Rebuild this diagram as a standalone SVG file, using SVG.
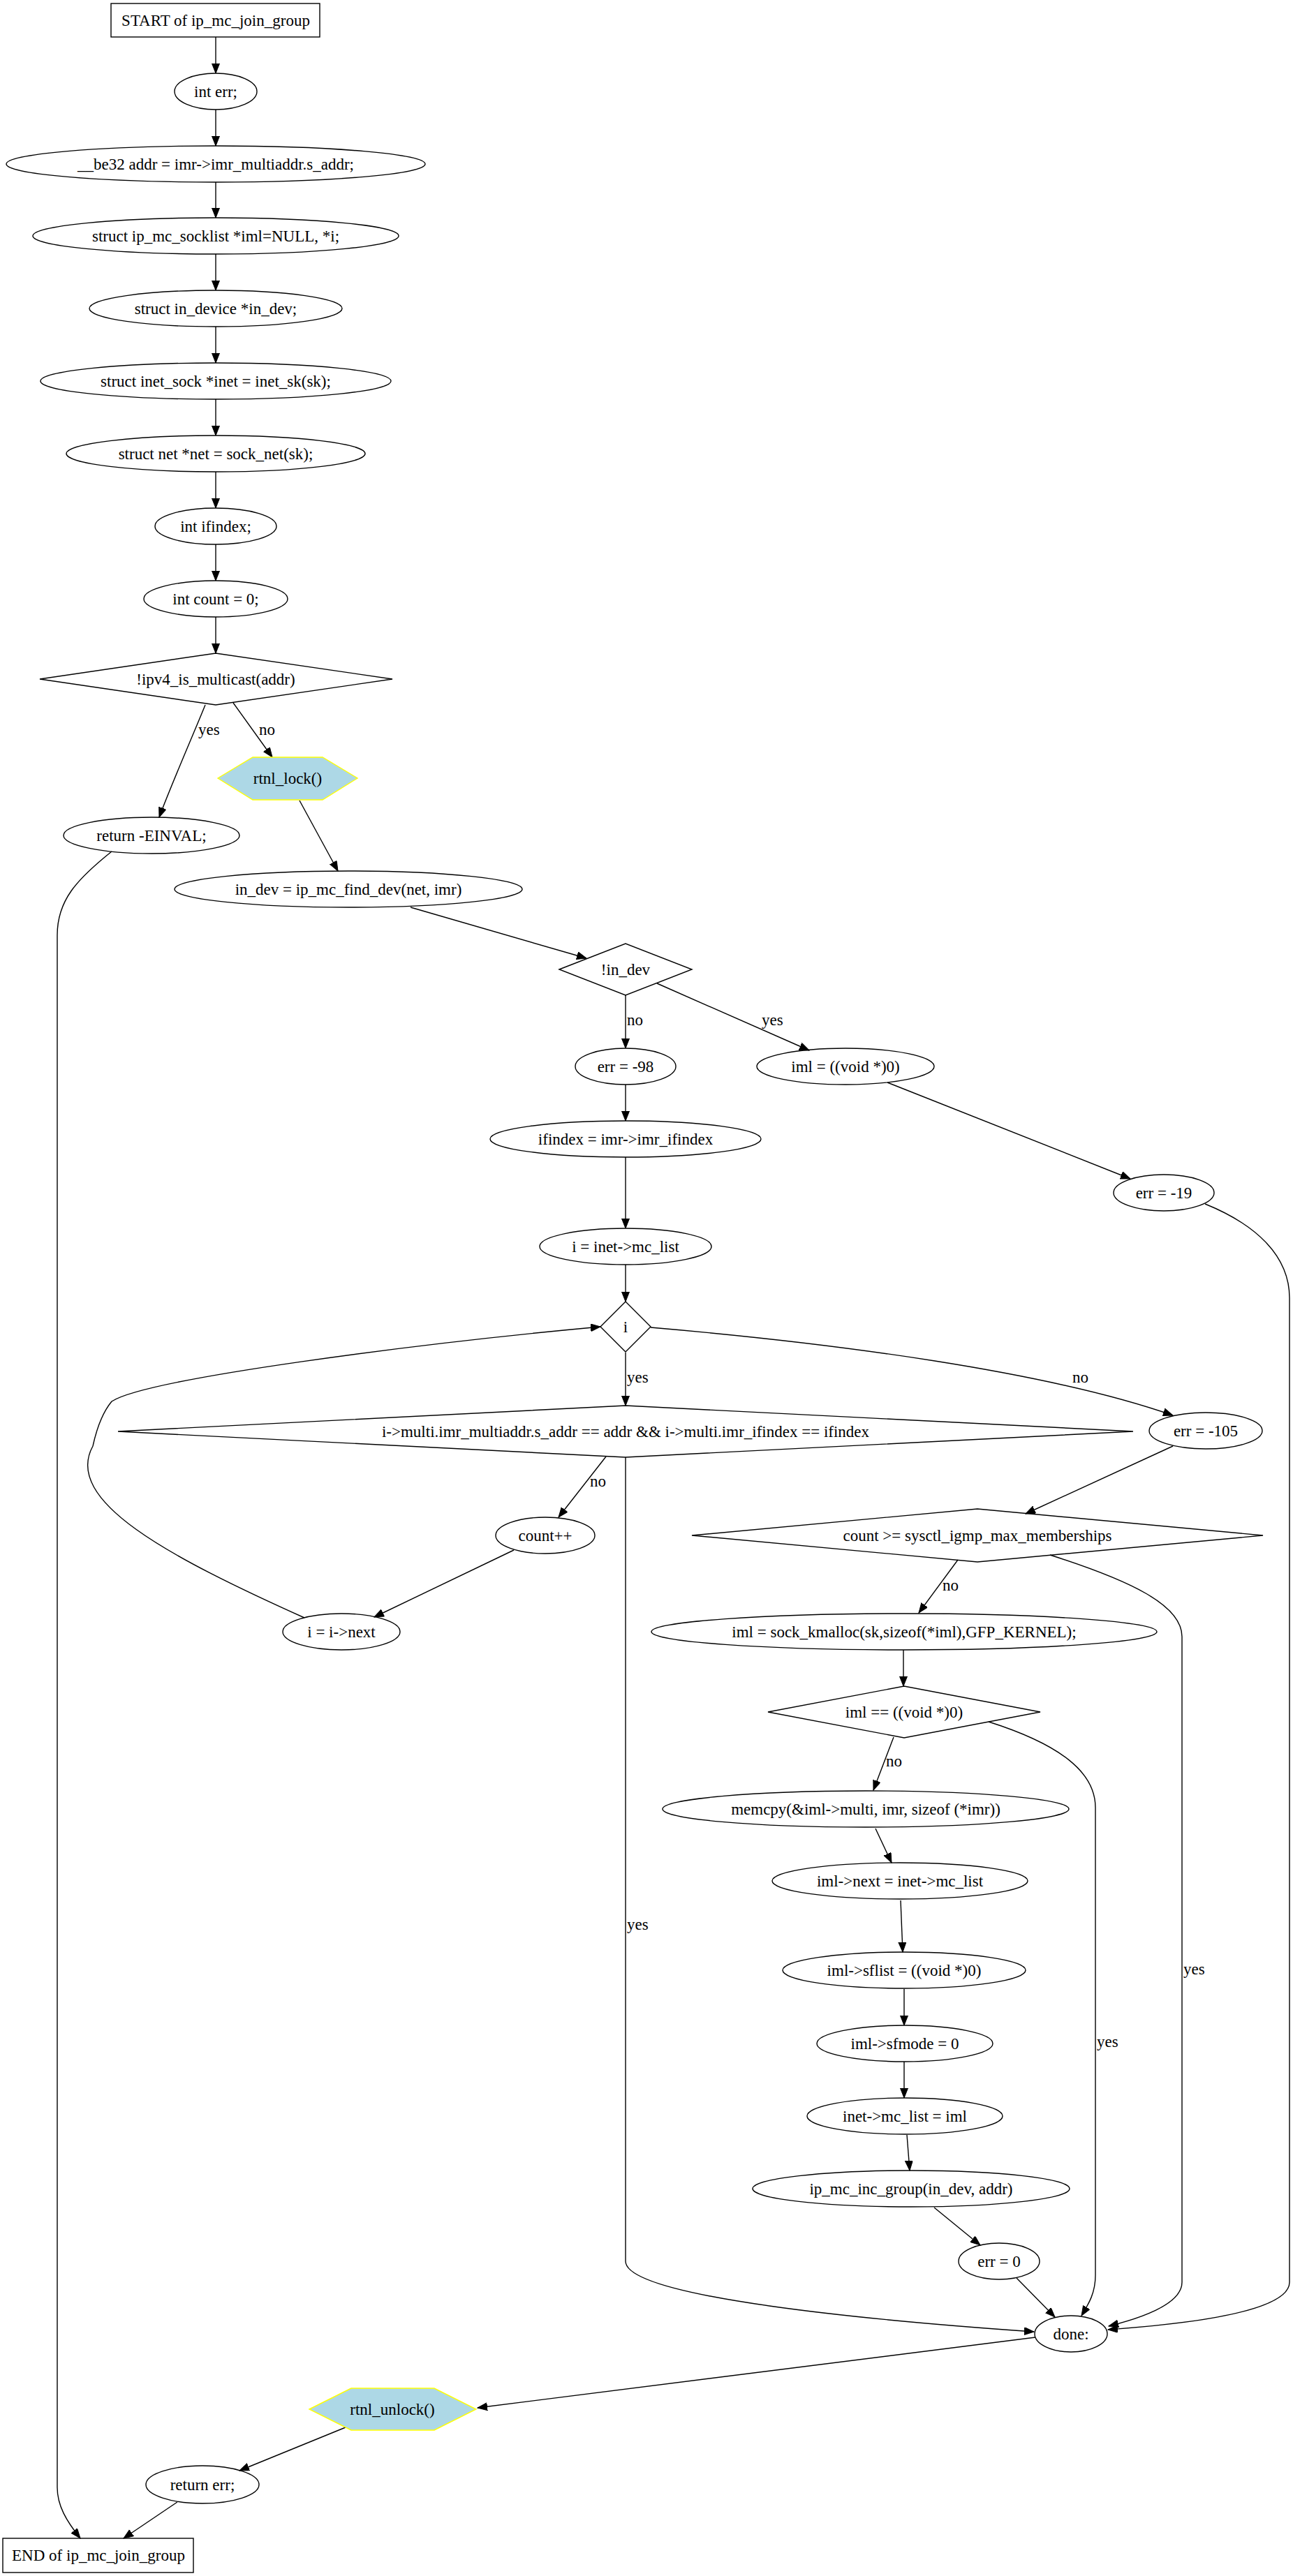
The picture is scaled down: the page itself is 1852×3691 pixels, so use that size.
<svg xmlns="http://www.w3.org/2000/svg" width="1852" height="3691" viewBox="0 0 1852 3691">
<style>
.s{fill:none;stroke:#000;stroke-width:1.4}
.h{fill:#add8e6;stroke:#ffff00;stroke-width:1.4}
text{font-family:"Liberation Serif","Times New Roman",serif;font-size:23px;fill:#000}
.t{text-anchor:middle}
.e{fill:none;stroke:#000;stroke-width:1.4;marker-end:url(#ah)}
.el{fill:none;stroke:#000;stroke-width:1.4}
</style>
<defs>
<marker id="ah" markerUnits="userSpaceOnUse" markerWidth="15" markerHeight="12" refX="14" refY="5.5" orient="auto">
<path d="M0,0 L14,5.5 L0,11 z" fill="#000" stroke="#000" stroke-width="1"/>
</marker>
</defs>
<rect width="1852" height="3691" fill="#fff"/>
<g id="connectors">
<path class="e" d="M309,53 L309,105"/>
<path class="e" d="M309,157 L309,209"/>
<path class="e" d="M309,261 L309,312"/>
<path class="e" d="M309,364 L309,416"/>
<path class="e" d="M309,468 L309,520"/>
<path class="e" d="M309,572 L309,624"/>
<path class="e" d="M309,676 L309,728"/>
<path class="e" d="M309,780 L309,832"/>
<path class="e" d="M309,884 L309,936"/>
<path class="e" d="M294,1010 C280,1045 245,1125 228,1171"/>
<text x="284" y="1053">yes</text>
<path class="e" d="M334,1007 L390,1085"/>
<text x="371" y="1053">no</text>
<path class="e" d="M429,1147 L484,1248"/>
<path class="e" d="M588,1300 L840,1373"/>
<path class="e" d="M896,1426 L896,1502"/>
<text x="898" y="1469">no</text>
<path class="e" d="M941,1409 L1159,1505"/>
<text x="1091" y="1469">yes</text>
<path class="e" d="M896,1554 L896,1606"/>
<path class="e" d="M896,1658 L896,1760"/>
<path class="e" d="M896,1812 L896,1865"/>
<path class="e" d="M1271,1551 L1619,1689"/>
<path class="e" d="M1726,1725 C1800,1755 1847,1800 1847,1860 L1847,3270 C1847,3320 1640,3334 1587,3338"/>
<path class="e" d="M896,1938 L896,2014"/>
<text x="898" y="1981">yes</text>
<path class="e" d="M932,1902 C1200,1925 1500,1965 1680,2028"/>
<text x="1536" y="1981">no</text>
<path class="e" d="M868,2087 L800,2174"/>
<text x="845" y="2130">no</text>
<path class="e" d="M896,2088 L896,3240 C896,3292 1250,3325 1481,3341"/>
<text x="898" y="2765">yes</text>
<path class="e" d="M736,2221 L536,2317"/>
<path class="e" d="M436,2318 C240,2230 90,2150 133,2072 C140,2040 150,2020 160,2008 C210,1975 600,1925 860,1901"/>
<path class="e" d="M1680,2072 L1469,2169"/>
<path class="e" d="M1372,2235 L1316,2311"/>
<text x="1350" y="2279">no</text>
<path class="e" d="M1504,2228 C1620,2265 1693,2300 1693,2345 L1693,3270 C1693,3305 1620,3325 1588,3333"/>
<text x="1695" y="2829">yes</text>
<path class="e" d="M1294,2364 L1294,2416"/>
<path class="e" d="M1280,2489 L1251,2565"/>
<text x="1269" y="2531">no</text>
<path class="e" d="M1416,2467 C1520,2500 1569,2540 1569,2590 L1569,3260 C1569,3285 1560,3300 1549,3318"/>
<text x="1571" y="2933">yes</text>
<path class="e" d="M1254,2620 L1277,2669"/>
<path class="e" d="M1290,2723 L1293,2797"/>
<path class="e" d="M1295,2850 L1295,2902"/>
<path class="e" d="M1295,2954 L1295,3006"/>
<path class="e" d="M1299,3059 L1303,3110"/>
<path class="e" d="M1338,3163 L1404,3217"/>
<path class="e" d="M1456,3264 L1511,3320"/>
<path class="e" d="M1483,3349 L684,3450"/>
<path class="e" d="M495,3478 L343,3540"/>
<path class="e" d="M254,3585 L177,3637"/>
<path class="e" d="M160,1220 C110,1260 82,1290 82,1340 L82,3564 C82,3590 95,3612 115,3637"/>
</g>
<g id="n_start"><rect class="s" x="159" y="5" width="299" height="48"/><text class="t" x="309" y="37">START of ip_mc_join_group</text></g>
<g id="n_err"><ellipse class="s" cx="309" cy="131" rx="59" ry="26"/><text class="t" x="309" y="139">int err;</text></g>
<g id="n_addr"><ellipse class="s" cx="309" cy="235" rx="300" ry="26"/><text class="t" x="309" y="243">__be32 addr = imr-&gt;imr_multiaddr.s_addr;</text></g>
<g id="n_socklist"><ellipse class="s" cx="309" cy="338" rx="262" ry="26"/><text class="t" x="309" y="346">struct ip_mc_socklist *iml=NULL, *i;</text></g>
<g id="n_indevice"><ellipse class="s" cx="309" cy="442" rx="181" ry="26"/><text class="t" x="309" y="450">struct in_device *in_dev;</text></g>
<g id="n_inet"><ellipse class="s" cx="309" cy="546" rx="251" ry="26"/><text class="t" x="309" y="554">struct inet_sock *inet = inet_sk(sk);</text></g>
<g id="n_net"><ellipse class="s" cx="309" cy="650" rx="214" ry="26"/><text class="t" x="309" y="658">struct net *net = sock_net(sk);</text></g>
<g id="n_ifindex"><ellipse class="s" cx="309" cy="754" rx="87" ry="26"/><text class="t" x="309" y="762">int ifindex;</text></g>
<g id="n_count"><ellipse class="s" cx="309" cy="858" rx="103" ry="26"/><text class="t" x="309" y="866">int count = 0;</text></g>
<g id="n_ismc"><polygon class="s" points="57,973 309,936 562,973 309,1010"/><text class="t" x="309" y="981">!ipv4_is_multicast(addr)</text></g>
<g id="n_lock"><polygon class="h" points="312,1115 362,1085 462,1085 512,1115 462,1146 362,1146"/><text class="t" x="412" y="1123">rtnl_lock()</text></g>
<g id="n_einval"><ellipse class="s" cx="217" cy="1197" rx="126" ry="26"/><text class="t" x="217" y="1205">return -EINVAL;</text></g>
<g id="n_finddev"><ellipse class="s" cx="499" cy="1274" rx="249" ry="26"/><text class="t" x="499" y="1282">in_dev = ip_mc_find_dev(net, imr)</text></g>
<g id="n_noindev"><polygon class="s" points="801,1389 896,1352 991,1389 896,1426"/><text class="t" x="896" y="1397">!in_dev</text></g>
<g id="n_err98"><ellipse class="s" cx="896" cy="1528" rx="72" ry="26"/><text class="t" x="896" y="1536">err = -98</text></g>
<g id="n_imlnull"><ellipse class="s" cx="1211" cy="1528" rx="127" ry="26"/><text class="t" x="1211" y="1536">iml = ((void *)0)</text></g>
<g id="n_ifidx"><ellipse class="s" cx="896" cy="1632" rx="194" ry="26"/><text class="t" x="896" y="1640">ifindex = imr-&gt;imr_ifindex</text></g>
<g id="n_err19"><ellipse class="s" cx="1667" cy="1709" rx="72" ry="26"/><text class="t" x="1667" y="1717">err = -19</text></g>
<g id="n_ilist"><ellipse class="s" cx="896" cy="1786" rx="123" ry="26"/><text class="t" x="896" y="1794">i = inet-&gt;mc_list</text></g>
<g id="n_i"><polygon class="s" points="860,1901 896,1865 932,1901 896,1937"/><text class="t" x="896" y="1909">i</text></g>
<g id="n_match"><polygon class="s" points="169,2051 896,2014 1623,2051 896,2088"/><text class="t" x="896" y="2059">i-&gt;multi.imr_multiaddr.s_addr == addr &amp;&amp; i-&gt;multi.imr_ifindex == ifindex</text></g>
<g id="n_err105"><ellipse class="s" cx="1727" cy="2050" rx="81" ry="26"/><text class="t" x="1727" y="2058">err = -105</text></g>
<g id="n_countinc"><ellipse class="s" cx="781" cy="2200" rx="71" ry="26"/><text class="t" x="781" y="2208">count++</text></g>
<g id="n_max"><polygon class="s" points="991,2200 1400,2162 1809,2200 1400,2238"/><text class="t" x="1400" y="2208">count &gt;= sysctl_igmp_max_memberships</text></g>
<g id="n_inext"><ellipse class="s" cx="489" cy="2338" rx="84" ry="26"/><text class="t" x="489" y="2346">i = i-&gt;next</text></g>
<g id="n_kmalloc"><ellipse class="s" cx="1295" cy="2338" rx="362" ry="26"/><text class="t" x="1295" y="2346">iml = sock_kmalloc(sk,sizeof(*iml),GFP_KERNEL);</text></g>
<g id="n_imlnullq"><polygon class="s" points="1100,2453 1295,2416 1490,2453 1295,2490"/><text class="t" x="1295" y="2461">iml == ((void *)0)</text></g>
<g id="n_memcpy"><ellipse class="s" cx="1240" cy="2592" rx="291" ry="26"/><text class="t" x="1240" y="2600">memcpy(&amp;iml-&gt;multi, imr, sizeof (*imr))</text></g>
<g id="n_imlnext"><ellipse class="s" cx="1289" cy="2695" rx="183" ry="26"/><text class="t" x="1289" y="2703">iml-&gt;next = inet-&gt;mc_list</text></g>
<g id="n_sflist"><ellipse class="s" cx="1295" cy="2823" rx="174" ry="26"/><text class="t" x="1295" y="2831">iml-&gt;sflist = ((void *)0)</text></g>
<g id="n_sfmode"><ellipse class="s" cx="1296" cy="2928" rx="126" ry="26"/><text class="t" x="1296" y="2936">iml-&gt;sfmode = 0</text></g>
<g id="n_mclist"><ellipse class="s" cx="1296" cy="3032" rx="140" ry="26"/><text class="t" x="1296" y="3040">inet-&gt;mc_list = iml</text></g>
<g id="n_incgroup"><ellipse class="s" cx="1305" cy="3136" rx="227" ry="26"/><text class="t" x="1305" y="3144">ip_mc_inc_group(in_dev, addr)</text></g>
<g id="n_err0"><ellipse class="s" cx="1431" cy="3240" rx="58" ry="26"/><text class="t" x="1431" y="3248">err = 0</text></g>
<g id="n_done"><ellipse class="s" cx="1534" cy="3344" rx="52" ry="26"/><text class="t" x="1534" y="3352">done:</text></g>
<g id="n_unlock"><polygon class="h" points="443,3452 503,3422 622,3422 682,3452 622,3482 503,3482"/><text class="t" x="562" y="3460">rtnl_unlock()</text></g>
<g id="n_reterr"><ellipse class="s" cx="290" cy="3560" rx="81" ry="27"/><text class="t" x="290" y="3568">return err;</text></g>
<g id="n_end"><rect class="s" x="4" y="3637" width="273" height="49"/><text class="t" x="141" y="3669">END of ip_mc_join_group</text></g>
</svg>
